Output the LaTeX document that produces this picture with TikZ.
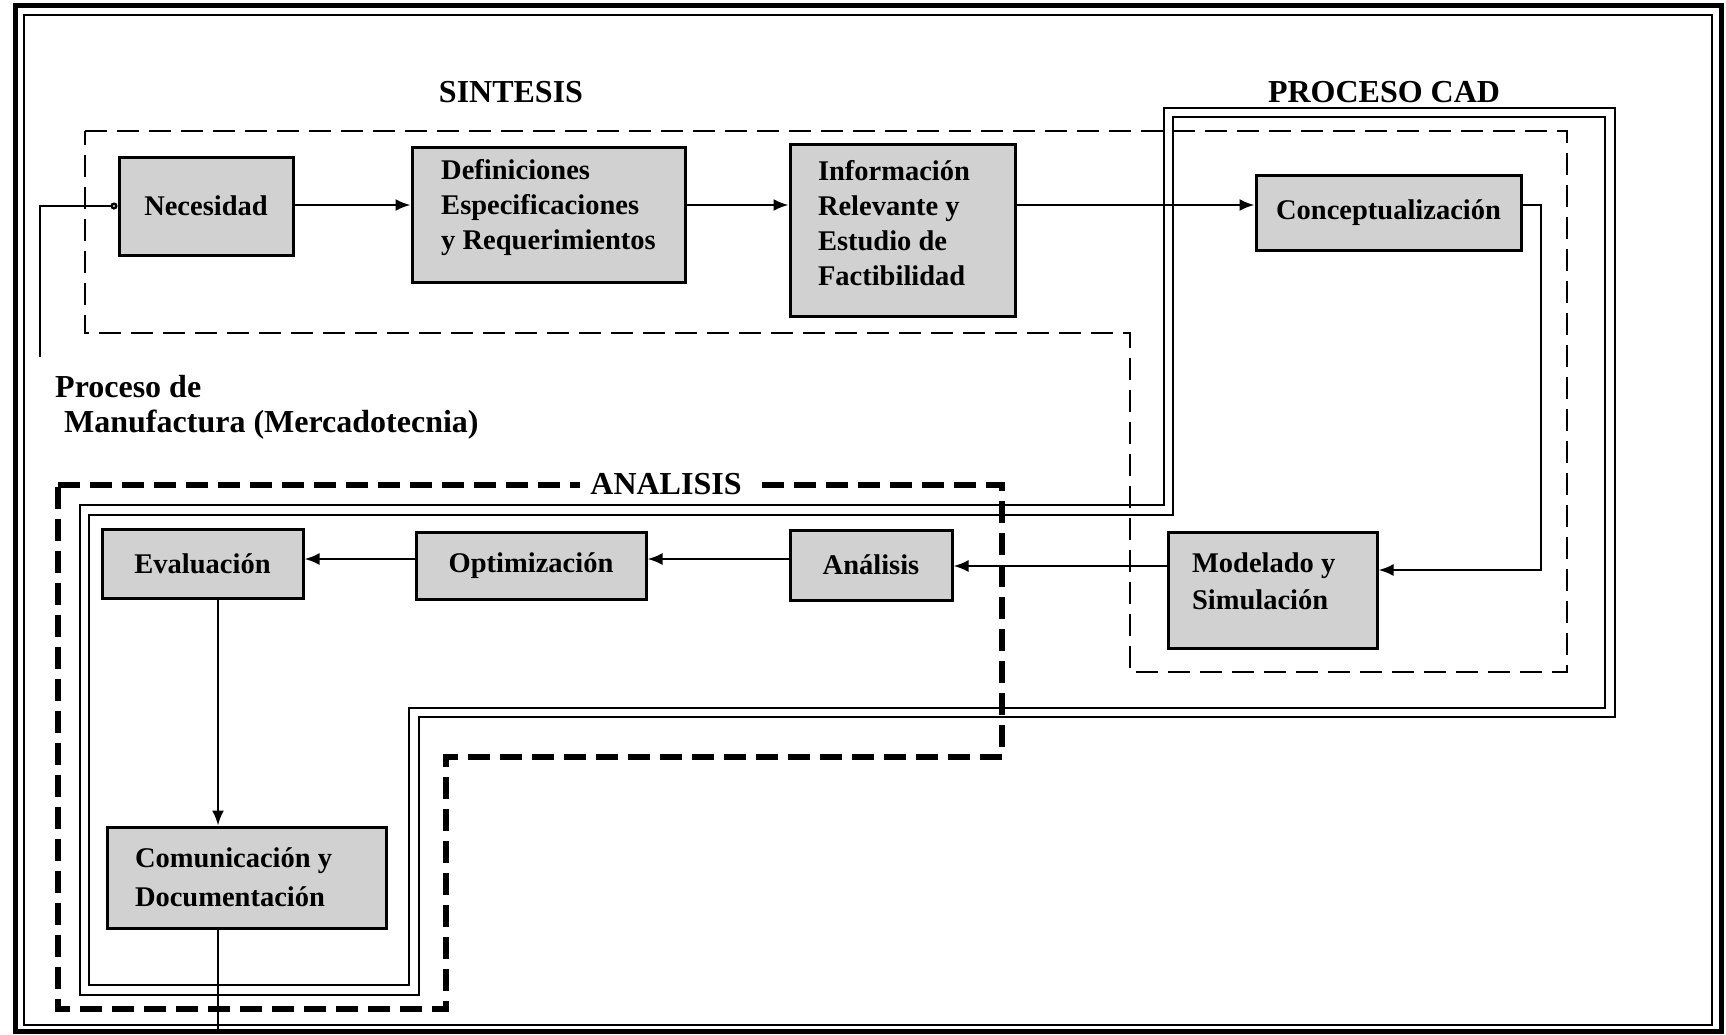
\documentclass[tikz,border=0pt]{standalone}
\usepackage{fontspec}
\setmainfont{Liberation Serif}
\usetikzlibrary{arrows.meta}
\newcommand\boxfont{\fontsize{28.5}{35}\selectfont\bfseries}
\newcommand\headfont{\fontsize{32}{38}\selectfont\bfseries}
\begin{document}
\begin{tikzpicture}[x=1pt,y=-1pt,
  blk/.style={draw, line width=3pt, fill=black!18, inner sep=0pt, font=\boxfont},
  conn/.style={line width=2.4pt, -{Latex[length=15pt,width=12pt]}},
  plain/.style={line width=2.4pt},
  thindash/.style={line width=2.4pt, dash pattern=on 22pt off 10pt},
  thickdash/.style={line width=6.5pt, dash pattern=on 22pt off 10pt},
  dbl/.style={line width=2pt, double, double distance=7.5pt},
  hdr/.style={font=\headfont, inner sep=0pt}]
\useasboundingbox (0,0) rectangle (1726,1034);
% outer frame
\draw[line width=5pt] (15,5.5) rectangle (1721,1031.5);
\draw[line width=2pt] (24,15) rectangle (1712,1025);
% double-line frame (CAD process)
\draw[dbl] (1168.5,112.5) -- (1610,112.5) -- (1610,712.5) -- (414,712.5) -- (414,990) -- (84.5,990) -- (84.5,510) -- (1168.5,510) -- cycle;
% thin dashed (sintesis / CAD)
\draw[thindash] (85,131) -- (1567,131) -- (1567,672) -- (1130,672) -- (1130,333) -- (85,333) -- cycle;
% thick dashed (analisis)
\draw[thickdash] (58,485) -- (1002,485) -- (1002,757) -- (446,757) -- (446,1009) -- (58,1009) -- cycle;
\node[hdr, fill=white, inner xsep=10pt, inner ysep=4pt] (anal) at (666,484) {ANALISIS};
% headers
\node[hdr] (sin) at (511,92) {SINTESIS};
\node[hdr] (cad) at (1384,92) {PROCESO CAD};
\node[hdr, anchor=west] (pm1) at (55,387) {Proceso de};
\node[hdr, anchor=west] (pm2) at (64,425) {Manufactura (Mercadotecnia)};
% blocks
\node[blk, minimum width=174pt, minimum height=98pt] (nec) at (206,206) {Necesidad};
\node[blk, minimum width=273pt, minimum height=135pt, align=flush left, text depth=20pt] (def) at (548.5,214.5) {Definiciones\\Especificaciones\\y Requerimientos};
\node[blk, minimum width=225pt, minimum height=172pt, text width=169pt, align=flush left, text depth=119pt] (inf) at (902.5,230) {Información\\Relevante y\\Estudio de\\Factibilidad};
\node[blk, minimum width=265pt, minimum height=75pt] (con) at (1388.5,212.5) {Conceptualización};
\node[blk, minimum width=209pt, minimum height=116pt, text width=161pt, align=flush left, text depth=54pt, font=\fontsize{28.5}{37}\selectfont\bfseries] (mod) at (1272.5,590) {Modelado y\\Simulación};
\node[blk, minimum width=162pt, minimum height=70pt] (ana) at (871,565) {Análisis};
\node[blk, minimum width=230pt, minimum height=67pt] (opt) at (531,565.5) {Optimización};
\node[blk, minimum width=201pt, minimum height=69pt] (eva) at (202.5,563.5) {Evaluación};
\node[blk, minimum width=279pt, minimum height=101pt, text width=223pt, align=flush left, font=\fontsize{28.5}{39}\selectfont\bfseries] (com) at (246.5,877.5) {Comunicación y\\Documentación};
% helper coordinates
\coordinate (feed) at (40,357);
\coordinate (r1) at (0,205);
\coordinate (cr) at (1541,205);
\coordinate (y570) at (0,570);
\coordinate (y566) at (0,566);
\coordinate (y559) at (0,559);
\coordinate (x218) at (218,0);
\coordinate (outb) at (218,1034);
% connectors
\draw[plain, -{Circle[open, length=7pt, width=7pt]}] (feed) |- (nec.west);
\draw[conn] (nec.east |- r1) -- (def.west |- r1);
\draw[conn] (def.east |- r1) -- (inf.west |- r1);
\draw[conn] (inf.east |- r1) -- (con.west |- r1);
\draw[conn] (con.east |- r1) -- (cr) |- (mod.east |- y570);
\draw[conn] (mod.west |- y566) -- (ana.east |- y566);
\draw[conn] (ana.west |- y559) -- (opt.east |- y559);
\draw[conn] (opt.west |- y559) -- (eva.east |- y559);
\draw[conn] (eva.south -| x218) -- (com.north -| x218);
\draw[plain] (com.south -| x218) -- (outb);
\end{tikzpicture}
\end{document}
